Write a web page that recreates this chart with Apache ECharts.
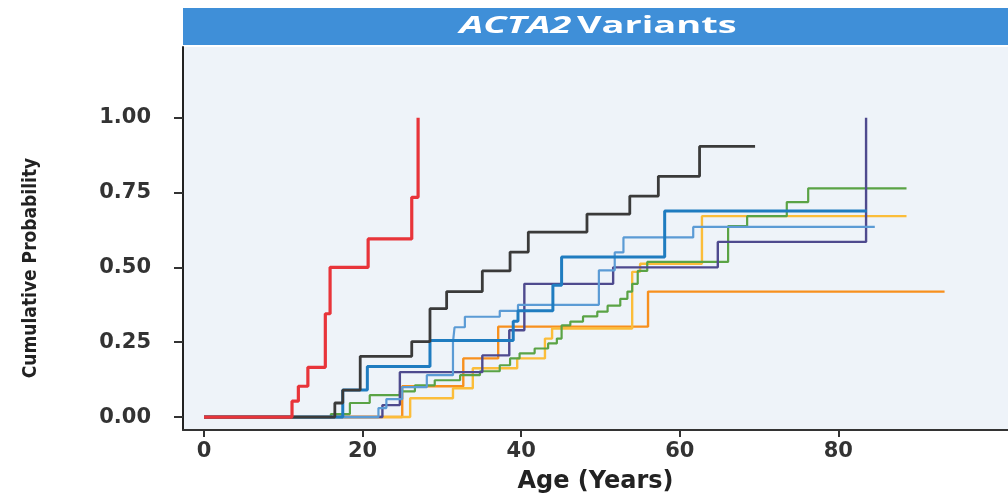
<!DOCTYPE html>
<html><head><meta charset="utf-8">
<script src="https://cdn.jsdelivr.net/npm/echarts@6/dist/echarts.min.js"></script>
<style>html,body{margin:0;padding:0;background:#fff}#c{width:1008px;height:499px}</style>
</head><body><div id="c"></div>
<script>
const xTicks = [0, 20, 40, 60, 80];
const yTicks = [0, 0.25, 0.5, 0.75, 1.0];

const redData = [[0,0],[11.1,0.053],[11.9,0.103],[13.1,0.166],[15.3,0.345],[15.9,0.50],[20.7,0.595],[26.2,0.734],[27.0,1.0]];
const blackData = [[0,0],[16.5,0.047],[17.5,0.090],[19.7,0.203],[26.2,0.252],[28.5,0.362],[30.6,0.419],[35.1,0.488],[38.6,0.551],[40.9,0.618],[48.3,0.678],[53.7,0.738],[57.3,0.804],[62.5,0.904],[69.5,0.904]];
const blueData = [[0,0],[17.5,0.090],[20.6,0.169],[28.5,0.256],[39.0,0.32],[39.6,0.355],[44.0,0.44],[45.1,0.535],[58.1,0.688],[83.6,0.688]];
const lightBlueData = [[0,0],[22.0,0.03],[23.0,0.06],[25.0,0.10],[28.1,0.14],[31.4,0.25],[31.6,0.30],[32.9,0.335],[37.3,0.355],[39.6,0.375],[49.8,0.49],[51.8,0.55],[52.9,0.60],[61.7,0.635],[84.6,0.635]];
const purpleData = [[0,0],[22.5,0.04],[24.7,0.15],[35.1,0.206],[38.5,0.29],[40.4,0.445],[51.6,0.50],[64.8,0.585],[83.5,0.585],[83.5,1.0]];
const greenData = [[0,0],[16.0,0.01],[18.4,0.047],[20.9,0.073],[24.7,0.086],[26.6,0.106],[29.1,0.123],[32.3,0.140],[34.8,0.153],[37.3,0.173],[38.6,0.196],[39.8,0.213],[41.7,0.229],[43.4,0.246],[44.5,0.262],[45.1,0.306],[46.2,0.319],[47.8,0.336],[49.6,0.352],[50.9,0.372],[52.5,0.395],[53.4,0.419],[54.0,0.445],[54.7,0.488],[55.9,0.518],[66.1,0.638],[68.5,0.671],[73.5,0.718],[76.2,0.764],[88.6,0.764]];
const orangeData = [[0,0],[25.0,0.103],[32.7,0.196],[37.1,0.302],[56.0,0.419],[93.4,0.419]];
const yellowData = [[0,0],[26.0,0.063],[31.4,0.096],[33.9,0.163],[39.5,0.196],[43.0,0.262],[43.9,0.296],[54.0,0.485],[55.0,0.512],[62.8,0.671],[88.6,0.671]];

const seriesList = [
  {name:'orange', data: orangeData, color:'#f7901e', w:2.4},
  {name:'yellow', data: yellowData, color:'#fbbd3a', w:2.4},
  {name:'green', data: greenData, color:'#5aa345', w:2.2},
  {name:'purple', data: purpleData, color:'#4e4a8e', w:2.4},
  {name:'lightblue', data: lightBlueData, color:'#5b9bd5', w:2.2},
  {name:'blue', data: blueData, color:'#1f7cc0', w:3},
  {name:'black', data: blackData, color:'#3a3a3a', w:2.8},
  {name:'red', data: redData, color:'#e8343a', w:3.2}
];

const chart = echarts.init(document.getElementById('c'), null, {renderer:'canvas'});
chart.setOption({
  animation:false,
  backgroundColor:'#ffffff',
  graphic:[
    {type:'rect', z:-1, shape:{x:183,y:8,width:830,height:37}, style:{fill:'#3f8fd8'}},
    {type:'text', x:598, y:26, scaleX:1.65, scaleY:1, z:10,
      style:{
        text:'{i|ACTA2} {n|Variants}', align:'center', verticalAlign:'middle',
        rich:{
          i:{fontFamily:'Open Sans',fontWeight:'bold',fontStyle:'italic',fontSize:23,fill:'#ffffff',color:'#ffffff'},
          n:{fontFamily:'Open Sans',fontWeight:'bold',fontSize:23,fill:'#ffffff',color:'#ffffff'}
        }
      }},
    {type:'text', x:31, y:268, rotation:Math.PI/2, z:10,
      style:{text:'Cumulative Probability', align:'center', verticalAlign:'middle',
        fontFamily:'DejaVu Sans Condensed', fontWeight:'bold', fontSize:19, fill:'#222'}}
  ],
  grid:{left:183, right:0, top:47, bottom:67, show:true, backgroundColor:'#eef3f9', borderWidth:0},
  xAxis:{
    type:'value', min:-2.65, max:101.4,
    name:'Age (Years)', nameLocation:'middle', nameGap:40,
    nameTextStyle:{fontFamily:'DejaVu Sans', fontWeight:'bold', fontSize:24, color:'#222'},
    axisLine:{show:true, onZero:false, lineStyle:{color:'#333', width:2}},
    axisTick:{show:true, length:7, lineStyle:{color:'#333', width:2}, customValues:xTicks},
    axisLabel:{fontFamily:'DejaVu Sans', fontWeight:'bold', fontSize:21, color:'#333', margin:11, customValues:xTicks},
    splitLine:{show:false}
  },
  yAxis:{
    type:'value', min:-0.0432, max:1.236,
    axisLine:{show:true, onZero:false, lineStyle:{color:'#222', width:2}},
    axisTick:{show:true, length:9, lineStyle:{color:'#333', width:2}, customValues:yTicks},
    axisLabel:{fontFamily:'DejaVu Sans', fontWeight:'bold', fontSize:21, color:'#333', margin:32, customValues:yTicks,
      formatter:function(v){return v.toFixed(2);}},
    splitLine:{show:false}
  },
  series: seriesList.map(s => ({
    name:s.name, type:'line', step:'end', symbol:'none', data:s.data,
    lineStyle:{color:s.color, width:s.w}, itemStyle:{color:s.color}
  }))
});
</script></body></html>
